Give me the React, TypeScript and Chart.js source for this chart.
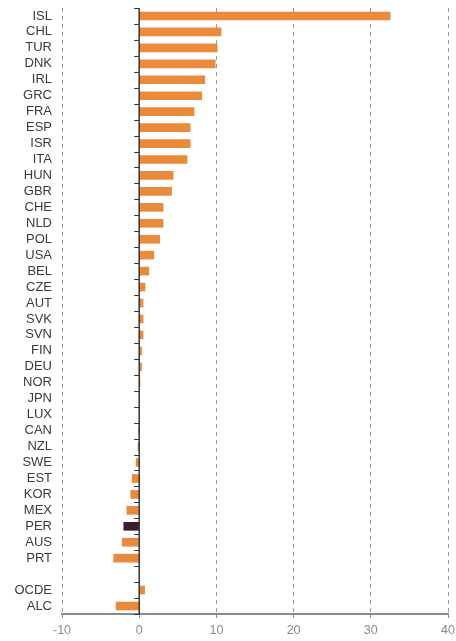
import React, { useEffect, useRef } from "react";
import { Chart, registerables } from "chart.js";

Chart.register(...registerables);

const categories = [
  "ISL", "CHL", "TUR", "DNK", "IRL", "GRC", "FRA", "ESP", "ISR", "ITA",
  "HUN", "GBR", "CHE", "NLD", "POL", "USA", "BEL", "CZE", "AUT", "SVK",
  "SVN", "FIN", "DEU", "NOR", "JPN", "LUX", "CAN", "NZL", "SWE", "EST",
  "KOR", "MEX", "PER", "AUS", "PRT", "", "OCDE", "ALC",
];

const values: (number | null)[] = [
  32.5, 10.6, 10.1, 9.85, 8.5, 8.1, 7.1, 6.6, 6.6, 6.2,
  4.4, 4.2, 3.1, 3.1, 2.65, 1.9, 1.25, 0.75, 0.5, 0.5,
  0.5, 0.3, 0.3, 0.1, 0.05, 0.03, -0.05, -0.15, -0.4, -0.9,
  -1.1, -1.6, -2.0, -2.2, -3.3, null, 0.7, -3.0,
];

const highlighted = ["PER"];

const xTicks = [-10, 0, 10, 20, 30, 40];

const ORANGE = "#E98B3A";
const DARK = "#3A1E2C";

const zeroAxisPlugin = {
  id: "zeroAxis",
  afterDatasetsDraw(chart: any) {
    const { ctx, chartArea, scales } = chart;
    const xs = scales.x;
    const ys = scales.y;
    const x0 = xs.getPixelForValue(0);
    ctx.save();
    ctx.strokeStyle = "#333";
    ctx.lineWidth = 1.5;
    ctx.beginPath();
    ctx.moveTo(x0, chartArea.top);
    ctx.lineTo(x0, chartArea.bottom);
    ctx.stroke();
    const n = categories.length;
    ctx.lineWidth = 1;
    for (let i = 0; i <= n; i++) {
      let y;
      if (i === 0) y = chartArea.top;
      else if (i === n) y = chartArea.bottom;
      else y = (ys.getPixelForValue(i - 1) + ys.getPixelForValue(i)) / 2;
      ctx.beginPath();
      ctx.moveTo(x0 - 5, Math.round(y) + 0.5);
      ctx.lineTo(x0, Math.round(y) + 0.5);
      ctx.stroke();
    }
    ctx.restore();
  },
};

export default function App() {
  const ref = useRef<HTMLCanvasElement | null>(null);
  useEffect(() => {
    if (!ref.current) return;
    const chart = new Chart(ref.current, {
      type: "bar",
      data: {
        labels: categories,
        datasets: [
          {
            data: values,
            backgroundColor: categories.map((c) =>
              highlighted.includes(c) ? DARK : ORANGE
            ),
            barThickness: 8,
            borderWidth: 0,
          },
        ],
      },
      options: {
        indexAxis: "y",
        animation: false,
        responsive: true,
        maintainAspectRatio: false,
        layout: { padding: { top: 8, right: 8, bottom: 0, left: 0 } },
        plugins: {
          legend: { display: false },
          tooltip: { enabled: false },
        },
        scales: {
          x: {
            min: -10,
            max: 40,
            afterBuildTicks: (scale: any) => {
              scale.ticks = xTicks.map((v) => ({ value: v }));
            },
            afterFit: (scale: any) => {
              scale.height = 27;
              scale.paddingLeft = 0;
              scale.paddingRight = 0;
            },
            grid: {
              color: (ctx: any) =>
                ctx.tick && ctx.tick.value === 0 ? "rgba(0,0,0,0)" : "#9a9a9a",
              lineWidth: 1,
              drawTicks: true,
              tickLength: 4,
              tickColor: "#8a8a8a",
            },
            border: { display: true, color: "#8a8a8a", width: 2, dash: [4, 4] },
            ticks: {
              color: "#8a8a8a",
              padding: 5,
              font: { family: "Liberation Sans", size: 12.5 },
            },
          },
          y: {
            afterFit: (scale: any) => {
              scale.width = 62;
              scale.paddingTop = 0;
              scale.paddingBottom = 0;
            },
            grid: { display: false, drawTicks: false },
            border: { display: false },
            ticks: {
              color: "#3a3a3a",
              padding: 10,
              autoSkip: false,
              font: { family: "Liberation Sans", size: 13 },
            },
          },
        },
      },
      plugins: [zeroAxisPlugin],
    } as any);
    return () => chart.destroy();
  }, []);
  return (
    <div style={{ position: "fixed", left: 0, top: 0, width: 456, height: 641 }}>
      <canvas ref={ref} />
    </div>
  );
}
